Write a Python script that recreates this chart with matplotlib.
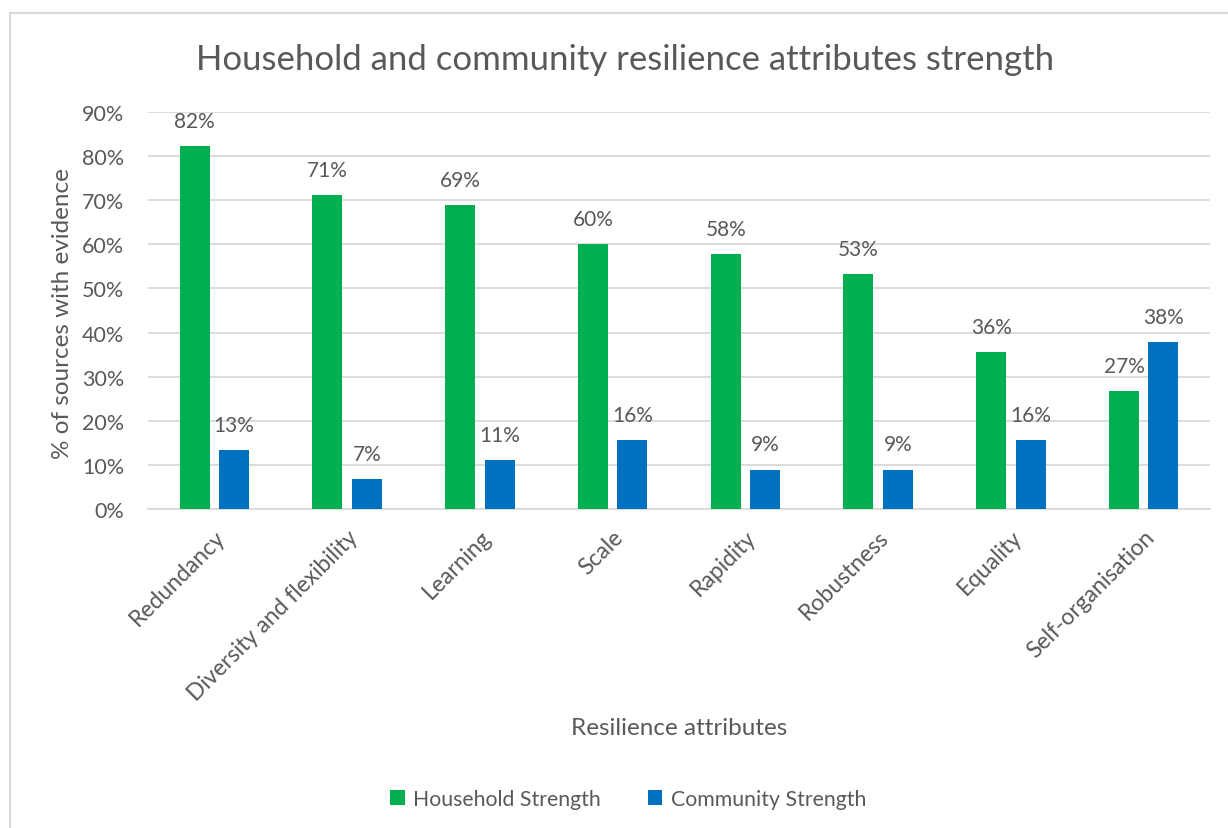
import matplotlib.pyplot as plt
import numpy as np
from matplotlib.lines import Line2D

attributes = ["Redundancy", "Diversity and flexibility", "Learning", "Scale",
              "Rapidity", "Robustness", "Equality", "Self-organisation"]
household = [0.822, 0.711, 0.689, 0.600, 0.578, 0.533, 0.356, 0.267]
community = [0.133, 0.067, 0.111, 0.156, 0.089, 0.089, 0.156, 0.378]
yticks = [0, 0.1, 0.2, 0.3, 0.4, 0.5, 0.6, 0.7, 0.8, 0.9]

TXT = "#595959"
GREEN = "#00B050"
BLUE = "#0070C0"
GRID = "#D9D9D9"

plt.rcParams["font.family"] = ["Lato", "DejaVu Sans"]

fig = plt.figure(figsize=(12.28, 8.29), dpi=100)
W, H = 1228, 829
ax = fig.add_axes([148 / W, 1 - 510 / H, (1210 - 148) / W, (510 - 113) / H])

x = np.arange(len(attributes))
bw = 0.226
off = 0.148
b1 = ax.bar(x - off, household, bw, color=GREEN, label="Household Strength", zorder=3)
b2 = ax.bar(x + off, community, bw, color=BLUE, label="Community Strength", zorder=3)

for bars in (b1, b2):
    for rect in bars:
        v = rect.get_height()
        ax.annotate(f"{v * 100:.0f}%", (rect.get_x() + rect.get_width() / 2, v),
                    xytext=(0, 11), textcoords="offset points", ha="center",
                    va="bottom", fontsize=15, color=TXT)

ax.set_xlim(-0.5, len(attributes) - 0.5)
ax.set_ylim(0, 0.9)
ax.set_yticks(yticks)
ax.set_yticklabels([f"{t * 100:.0f}%" for t in yticks])
ax.set_xticks(x)
ax.set_xticklabels(attributes, rotation=45, ha="right", rotation_mode="anchor")
ax.tick_params(axis="both", length=0, colors=TXT)
ax.tick_params(axis="y", pad=17, labelsize=15.5)
ax.tick_params(axis="x", pad=12, labelsize=16.5)
ax.grid(axis="y", color=GRID, linewidth=1.3, zorder=0)
for s in ("top", "right", "left"):
    ax.spines[s].set_visible(False)
ax.spines["bottom"].set_color(GRID)
ax.spines["bottom"].set_linewidth(1.3)

ax.set_ylabel("% of sources with evidence", fontsize=17.5, color=TXT)
ax.yaxis.set_label_coords((73 - 148) / 1062, 0.496)
fig.text(679 / W, 1 - 729 / H, "Resilience attributes", ha="center", va="center",
         fontsize=17.5, color=TXT)
fig.text(625 / W, 1 - 60 / H, "Household and community resilience attributes strength",
         ha="center", va="center", fontsize=25, color=TXT)

fig.legend(handles=[b1, b2], loc="center", bbox_to_anchor=(628 / W, 1 - 800 / H),
           ncol=2, frameon=False, fontsize=15.3, labelcolor=TXT, handlelength=0.7,
           handleheight=0.7, handletextpad=0.4, columnspacing=2.2)

# chart border (only left and top visible in crop)
fig.add_artist(Line2D([10 / W, 10 / W], [0, 1 - 14 / H], color=GRID, linewidth=1.5,
                      transform=fig.transFigure))
fig.add_artist(Line2D([10 / W, 1], [1 - 14 / H, 1 - 14 / H], color=GRID, linewidth=1.5,
                      transform=fig.transFigure))

fig.savefig("out.png", dpi=100)
